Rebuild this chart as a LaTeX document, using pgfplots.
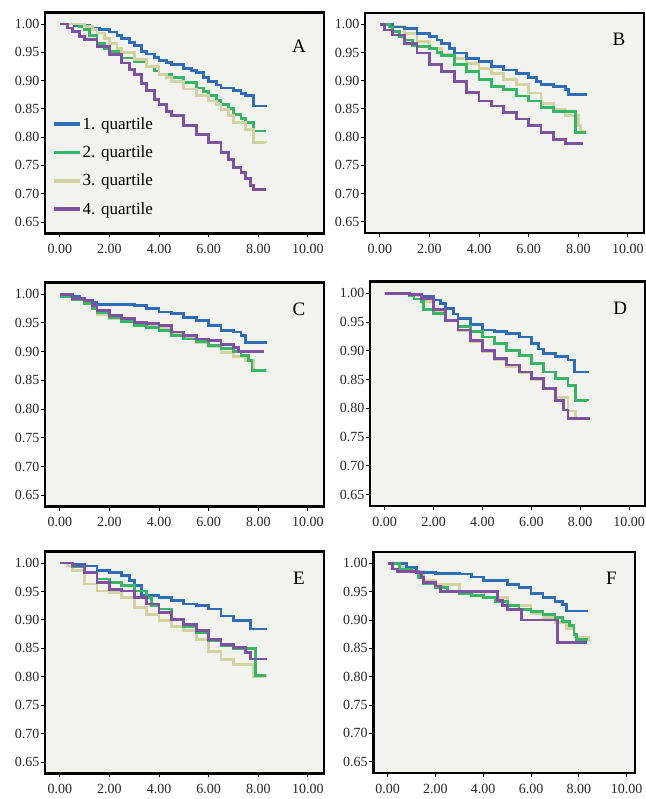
\documentclass[border=0pt]{standalone}
\usepackage{fontspec}
\setmainfont{Liberation Serif}
\usepackage{pgfplots}
\pgfplotsset{compat=1.18}

\definecolor{bgc}{RGB}{242,242,238}
\definecolor{qblue}{RGB}{46,108,180}
\definecolor{qgreen}{RGB}{55,180,100}
\definecolor{qbeige}{RGB}{210,210,160}
\definecolor{qpurple}{RGB}{125,80,160}

\pgfplotsset{
  km/.style={
    scale only axis,
    axis background/.style={fill=bgc},
    axis line style={line width=2.5pt, black},
    xmin=-0.6, xmax=10.65, ymin=0.63, ymax=1.02,
    xtick={0,2,4,6,8,10},
    ytick={0.65,0.7,0.75,0.8,0.85,0.9,0.95,1},
    tick pos=left, tick align=outside,
    major tick length=4pt,
    tick style={black, line width=0.8pt},
    tick label style={font=\fontsize{14}{14}\selectfont, text=black!85},
    yticklabel style={inner sep=1.5pt},
    xticklabel style={inner sep=6.5pt},
    /pgf/number format/.cd, fixed, fixed zerofill, precision=2, assume math mode=true,
  },
  every axis plot/.append style={const plot, line width=2.8pt, line join=miter},
  q1/.style={qblue}, q2/.style={qgreen}, q3/.style={qbeige}, q4/.style={qpurple},
}
\newcommand{\panel}[1]{\node[font=\fontsize{19}{19}\selectfont] at (rel axis cs:0.91,0.88) {#1};}

\begin{document}
\begin{tikzpicture}
\useasboundingbox (0,0) rectangle (645pt,799pt);

% A
\begin{axis}[km, at={(45pt,565.7pt)}, anchor=south west, width=279pt, height=220.6pt,
  legend style={at={(0.025,0.53)}, anchor=north west, draw=none, fill=none,
    font=\fontsize{17}{17}\selectfont, row sep=13pt, inner sep=0pt,
    nodes={inner sep=1pt}},
  legend cell align=left,
  legend image code/.code={\draw[#1, line width=3.5pt] (0pt,0pt) -- (26pt,0pt);}]
\addplot[q1] coordinates {(0,1) (0.6,0.998) (1.2,0.993) (1.6,0.99) (2,0.986) (2.3,0.98) (2.5,0.975) (2.8,0.968) (3,0.962) (3.3,0.952) (3.5,0.947) (3.8,0.941) (4,0.936) (4.3,0.932) (4.5,0.928) (5,0.922) (5.3,0.918) (5.5,0.914) (5.8,0.906) (6,0.899) (6.3,0.892) (6.5,0.887) (7,0.882) (7.3,0.877) (7.5,0.873) (7.8,0.855) (8.35,0.855)};
\addplot[q2] coordinates {(0,1) (0.8,0.995) (1,0.99) (1.2,0.98) (1.5,0.966) (1.8,0.957) (2,0.951) (2.5,0.94) (3,0.934) (3.5,0.925) (3.8,0.917) (4,0.911) (4.5,0.905) (5,0.896) (5.5,0.887) (5.8,0.88) (6,0.873) (6.3,0.865) (6.5,0.858) (6.8,0.85) (7,0.84) (7.3,0.833) (7.5,0.826) (7.8,0.811) (8.3,0.811)};
\addplot[q3] coordinates {(0,1) (1,0.995) (1.3,0.99) (1.5,0.984) (1.8,0.975) (2,0.966) (2.3,0.957) (2.5,0.949) (3,0.937) (3.5,0.925) (4,0.911) (4.3,0.905) (4.5,0.899) (5,0.885) (5.5,0.873) (6,0.864) (6.3,0.857) (6.5,0.849) (6.8,0.838) (7,0.826) (7.5,0.814) (7.8,0.791) (8.3,0.79)};
\addplot[q4] coordinates {(0,1) (0.3,0.993) (0.5,0.987) (0.8,0.978) (1,0.972) (1.5,0.96) (2,0.946) (2.5,0.931) (2.8,0.92) (3,0.911) (3.3,0.895) (3.5,0.882) (3.8,0.867) (4,0.858) (4.3,0.846) (4.5,0.838) (5,0.82) (5.5,0.805) (6,0.791) (6.5,0.773) (6.8,0.76) (7,0.747) (7.3,0.737) (7.5,0.727) (7.7,0.715) (7.8,0.707) (8.3,0.707)};
\legend{1. quartile, 2. quartile, 3. quartile, 4. quartile}
\node[font=\fontsize{19}{19}\selectfont] at (rel axis cs:0.91,0.85) {A};
\end{axis}

% B
\begin{axis}[km, at={(365pt,566pt)}, anchor=south west, width=279pt, height=220pt]
\addplot[q3] coordinates {(0,1) (0.5,0.997) (1,0.984) (1.5,0.969) (2,0.957) (2.5,0.946) (3,0.94) (3.5,0.931) (4,0.922) (4.5,0.913) (5,0.902) (5.5,0.893) (6,0.878) (6.5,0.86) (7,0.849) (7.5,0.838) (8,0.82) (8.1,0.81) (8.3,0.81)};
\addplot[q1] coordinates {(0,1) (0.5,0.995) (1,0.992) (1.5,0.984) (2,0.978) (2.3,0.972) (2.5,0.966) (2.8,0.957) (3,0.949) (3.5,0.94) (4,0.934) (4.5,0.925) (5,0.919) (5.5,0.913) (6,0.905) (6.3,0.898) (6.5,0.893) (7,0.89) (7.5,0.884) (7.6,0.875) (8.35,0.875)};
\addplot[q2] coordinates {(0,1) (0.4,0.995) (0.5,0.987) (0.8,0.978) (1,0.972) (1.3,0.963) (1.5,0.96) (2,0.957) (2.3,0.95) (2.5,0.945) (3,0.928) (3.5,0.916) (4,0.902) (4.5,0.89) (5,0.884) (5.5,0.873) (6,0.864) (6.5,0.852) (7,0.846) (7.9,0.808) (8.3,0.808)};
\addplot[q4] coordinates {(0,1) (0.2,0.99) (0.5,0.981) (1,0.966) (1.5,0.949) (2,0.928) (2.5,0.916) (3,0.899) (3.5,0.879) (4,0.864) (4.5,0.855) (5,0.844) (5.5,0.832) (6,0.82) (6.5,0.808) (7,0.796) (7.5,0.788) (8.2,0.788)};
\panel{B}
\end{axis}

% C
\begin{axis}[km, at={(45pt,292.3pt)}, anchor=south west, width=279pt, height=224pt]
\addplot[q3] coordinates {(0,0.998) (0.5,0.992) (1,0.985) (1.5,0.965) (2,0.958) (2.5,0.953) (3,0.948) (3.5,0.944) (4,0.94) (4.5,0.932) (5,0.924) (5.5,0.916) (6,0.908) (6.5,0.898) (7,0.892) (7.5,0.885) (7.8,0.868) (8.3,0.865)};
\addplot[q1] coordinates {(0,1) (0.5,0.996) (0.8,0.99) (1,0.986) (1.5,0.982) (3,0.98) (3.5,0.975) (4,0.969) (4.5,0.966) (5,0.96) (5.5,0.954) (6,0.945) (6.5,0.937) (7,0.934) (7.3,0.928) (7.5,0.916) (8.35,0.916)};
\addplot[q2] coordinates {(0,0.996) (0.5,0.99) (1,0.984) (1.3,0.975) (1.5,0.968) (2,0.96) (2.5,0.952) (3,0.946) (3.5,0.942) (4,0.937) (4.5,0.928) (5,0.922) (5.5,0.917) (6,0.911) (6.5,0.905) (7,0.9) (7.3,0.893) (7.6,0.885) (7.75,0.867) (8.3,0.867)};
\addplot[q4] coordinates {(0,1) (0.5,0.992) (1,0.989) (1.3,0.98) (1.5,0.972) (2,0.963) (2.5,0.957) (3,0.951) (3.5,0.949) (4,0.945) (4.5,0.934) (5,0.928) (5.5,0.922) (6,0.919) (6.5,0.913) (7,0.907) (7.2,0.9) (8.25,0.9)};
\panel{C}
\end{axis}

% D
\begin{axis}[km, at={(370pt,293pt)}, anchor=south west, width=275pt, height=224.3pt]
\addplot[q3] coordinates {(0,1) (1,0.995) (1.5,0.985) (2,0.968) (2.5,0.952) (3,0.935) (3.5,0.915) (4,0.898) (4.5,0.885) (5,0.873) (5.5,0.862) (6,0.85) (6.5,0.835) (7,0.818) (7.5,0.795) (7.8,0.783) (8.35,0.782)};
\addplot[q1] coordinates {(0,1) (1,0.998) (1.5,0.994) (2,0.988) (2.3,0.982) (2.5,0.974) (2.8,0.964) (3,0.956) (3.5,0.945) (4,0.936) (4.5,0.933) (5,0.93) (5.5,0.924) (6,0.913) (6.3,0.903) (6.5,0.895) (7,0.89) (7.5,0.884) (7.75,0.863) (8.35,0.863)};
\addplot[q2] coordinates {(0,1) (1,0.995) (1.2,0.99) (1.5,0.985) (1.6,0.971) (2,0.965) (2.5,0.953) (3,0.942) (3.5,0.933) (4,0.924) (4.5,0.913) (5,0.901) (5.5,0.892) (6,0.878) (6.5,0.863) (7,0.851) (7.5,0.84) (7.8,0.814) (8.3,0.813)};
\addplot[q4] coordinates {(0,1) (0.5,0.999) (1,0.998) (1.5,0.991) (2,0.971) (2.5,0.953) (3,0.936) (3.5,0.918) (4,0.901) (4.5,0.887) (5,0.875) (5.5,0.863) (6,0.851) (6.5,0.834) (7,0.814) (7.3,0.797) (7.5,0.782) (8.35,0.78)};
\panel{D}
\end{axis}

% E
\begin{axis}[km, at={(45pt,25.7pt)}, anchor=south west, width=279pt, height=221.6pt]
\addplot[q3] coordinates {(0,1) (0.3,0.995) (0.5,0.987) (1,0.963) (1.5,0.951) (2,0.948) (2.5,0.94) (3,0.922) (3.5,0.91) (4,0.899) (4.5,0.889) (5,0.881) (5.5,0.866) (6,0.845) (6.5,0.83) (7,0.822) (7.8,0.801) (8.3,0.8)};
\addplot[q1] coordinates {(0,1) (0.5,0.997) (1,0.995) (1.5,0.987) (2,0.984) (2.5,0.978) (2.8,0.97) (3,0.96) (3.3,0.943) (4,0.94) (4.5,0.934) (5,0.928) (5.5,0.925) (6,0.919) (6.5,0.907) (7,0.899) (7.7,0.884) (8.35,0.884)};
\addplot[q2] coordinates {(0,1) (0.5,0.993) (1,0.984) (1.5,0.972) (2,0.966) (2.5,0.96) (3,0.951) (3.5,0.94) (3.7,0.925) (4,0.919) (4.5,0.901) (5,0.889) (5.5,0.878) (6,0.863) (6.5,0.855) (7,0.849) (7.9,0.802) (8.3,0.802)};
\addplot[q4] coordinates {(0,1) (0.5,0.995) (1,0.984) (1.5,0.966) (2,0.954) (2.5,0.951) (3,0.94) (3.5,0.928) (4,0.913) (4.5,0.901) (5,0.892) (5.5,0.881) (6,0.866) (6.5,0.857) (7,0.851) (7.5,0.843) (7.7,0.831) (8.35,0.831)};
\panel{E}
\end{axis}

% F
\begin{axis}[km, at={(373.3pt,26pt)}, anchor=south west, width=261.7pt, height=221pt, xmax=10.35]
\addplot[q3] coordinates {(0,1) (0.5,0.992) (1,0.986) (1.5,0.97) (2,0.962) (3,0.95) (4,0.94) (5,0.925) (6,0.912) (6.5,0.905) (7,0.895) (7.5,0.885) (7.8,0.87) (8.4,0.863)};
\addplot[q1] coordinates {(0,1) (0.6,0.999) (0.8,0.993) (1.2,0.984) (2,0.982) (3,0.981) (3.5,0.976) (4,0.969) (4.5,0.969) (5,0.963) (5.5,0.957) (6,0.947) (6.5,0.939) (7,0.933) (7.3,0.927) (7.5,0.916) (8.4,0.916)};
\addplot[q2] coordinates {(0,1) (0.5,0.99) (1,0.985) (1.3,0.975) (1.5,0.965) (2,0.957) (2.5,0.95) (3,0.947) (3.5,0.943) (4,0.94) (4.5,0.933) (5,0.925) (5.5,0.918) (6,0.915) (6.5,0.91) (7,0.905) (7.3,0.897) (7.6,0.89) (7.8,0.875) (7.9,0.866) (8.4,0.866)};
\addplot[q4] coordinates {(0,1) (0.2,0.99) (0.4,0.985) (1.2,0.984) (1.4,0.975) (1.5,0.966) (2,0.96) (2.2,0.95) (4.6,0.935) (4.8,0.925) (5,0.918) (5.6,0.9) (7.1,0.86) (8.35,0.86)};
\panel{F}
\end{axis}
\end{tikzpicture}
\end{document}
